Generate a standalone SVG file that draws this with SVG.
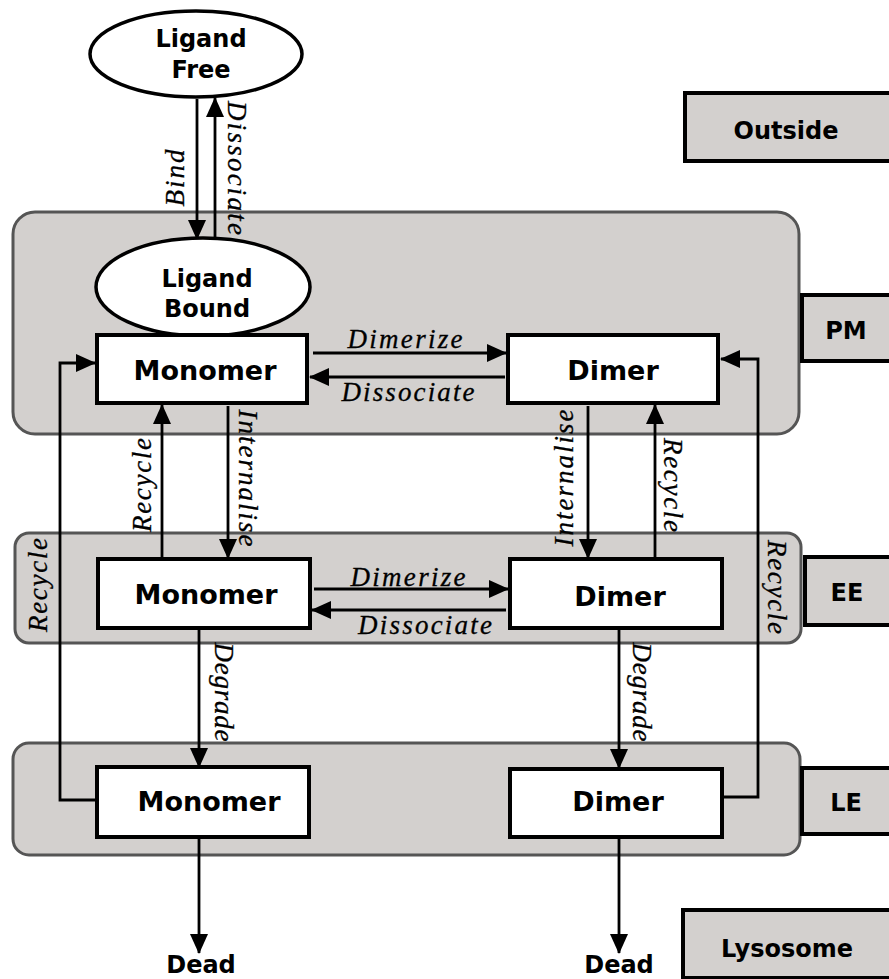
<svg xmlns="http://www.w3.org/2000/svg" width="889" height="979" viewBox="0 0 889 979">
  <defs>
    <marker id="arrow" markerUnits="userSpaceOnUse" markerWidth="20" markerHeight="18" refX="19" refY="9" orient="auto">
      <path d="M0,0 L20,9 L0,18 Z" fill="#000"/>
    </marker>
    <style>
      .region { fill: #d3d0ce; stroke: #555; stroke-width: 3; }
      .tag { fill: #d3d0ce; stroke: #000; stroke-width: 4; }
      .box { fill: #fff; stroke: #000; stroke-width: 4; }
      .oval { fill: #fff; stroke: #000; stroke-width: 3.5; }
      .conn { fill: none; stroke: #000; stroke-width: 2.8; }
      .arr { marker-end: url(#arrow); }
      .bold { font-family: "DejaVu Sans", Verdana, sans-serif; font-weight: bold; fill: #000; text-anchor: middle; }
      .node { font-size: 27px; }
      .lbl { font-size: 24px; }
      .it { font-family: "Liberation Serif", "Times New Roman", serif; font-style: italic; font-size: 27px; fill: #000; stroke: #000; stroke-width: 0.3; text-anchor: middle; }
    </style>
  </defs>

  <!-- compartments -->
  <g id="compartments">
    <rect id="pm-region" class="region" x="13" y="212" width="786" height="222" rx="22"/>
    <rect id="ee-region" class="region" x="15" y="533" width="786" height="110" rx="14"/>
    <rect id="le-region" class="region" x="13" y="743" width="787" height="112" rx="16"/>
  </g>

  <!-- compartment labels -->
  <g id="tag-outside">
    <rect class="tag" x="685" y="93" width="230" height="68"/>
    <text class="bold lbl" x="786" y="139">Outside</text>
  </g>
  <g id="tag-pm">
    <rect class="tag" x="802" y="295" width="120" height="66"/>
    <text class="bold lbl" x="846" y="339">PM</text>
  </g>
  <g id="tag-ee">
    <rect class="tag" x="805" y="557" width="120" height="68"/>
    <text class="bold lbl" x="847" y="601">EE</text>
  </g>
  <g id="tag-le">
    <rect class="tag" x="802" y="768" width="120" height="66"/>
    <text class="bold lbl" x="846" y="811">LE</text>
  </g>
  <g id="tag-lysosome">
    <rect class="tag" x="683" y="910" width="230" height="68"/>
    <text class="bold lbl" x="787" y="957">Lysosome</text>
  </g>

  <!-- connectors -->
  <g id="connectors">
    <line class="conn arr" x1="197" y1="99" x2="197" y2="239"/>
    <line class="conn arr" x1="215" y1="239" x2="215" y2="98"/>

    <line class="conn arr" x1="313" y1="353" x2="506" y2="353"/>
    <line class="conn arr" x1="505" y1="377" x2="310" y2="377"/>

    <line class="conn arr" x1="162" y1="559" x2="162" y2="405"/>
    <line class="conn arr" x1="228" y1="406" x2="228" y2="558"/>
    <line class="conn arr" x1="588" y1="406" x2="588" y2="558"/>
    <line class="conn arr" x1="655" y1="559" x2="655" y2="405"/>

    <line class="conn arr" x1="314" y1="589" x2="508" y2="589"/>
    <line class="conn arr" x1="506" y1="610" x2="312" y2="610"/>

    <line class="conn arr" x1="199" y1="628" x2="199" y2="767"/>
    <line class="conn arr" x1="619" y1="628" x2="619" y2="768"/>

    <polyline class="conn arr" points="97,800 60,800 60,363 95,363"/>
    <polyline class="conn arr" points="722,797 758,797 758,359 721,359"/>

    <line class="conn arr" x1="199" y1="837" x2="199" y2="953"/>
    <line class="conn arr" x1="619" y1="837" x2="619" y2="953"/>
  </g>

  <!-- connector labels -->
  <g id="connector-labels">
    <text class="it" transform="translate(184,178) rotate(-90)" textLength="57" lengthAdjust="spacing">Bind</text>
    <text class="it" transform="translate(228,168) rotate(90)" textLength="134" lengthAdjust="spacing">Dissociate</text>

    <text class="it" x="405" y="348" textLength="115" lengthAdjust="spacing">Dimerize</text>
    <text class="it" x="408" y="401" textLength="133" lengthAdjust="spacing">Dissociate</text>

    <text class="it" transform="translate(151,485) rotate(-90)" textLength="94" lengthAdjust="spacing">Recycle</text>
    <text class="it" transform="translate(239,478) rotate(90)" textLength="137" lengthAdjust="spacing">Internalise</text>
    <text class="it" transform="translate(573,478) rotate(-90)" textLength="137" lengthAdjust="spacing">Internalise</text>
    <text class="it" transform="translate(664,485) rotate(90)" textLength="94" lengthAdjust="spacing">Recycle</text>

    <text class="it" x="408" y="586" textLength="115" lengthAdjust="spacing">Dimerize</text>
    <text class="it" x="425" y="634" textLength="134" lengthAdjust="spacing">Dissociate</text>

    <text class="it" transform="translate(47,585) rotate(-90)" textLength="94" lengthAdjust="spacing">Recycle</text>
    <text class="it" transform="translate(768,587) rotate(90)" textLength="94" lengthAdjust="spacing">Recycle</text>

    <text class="it" transform="translate(215,692) rotate(90)" textLength="99" lengthAdjust="spacing">Degrade</text>
    <text class="it" transform="translate(633,692) rotate(90)" textLength="99" lengthAdjust="spacing">Degrade</text>
  </g>

  <!-- nodes -->
  <g id="ligand-free">
    <ellipse class="oval" cx="196" cy="54" rx="106" ry="43"/>
    <text class="bold lbl" x="201" y="47">Ligand</text>
    <text class="bold lbl" x="201" y="78">Free</text>
  </g>
  <g id="ligand-bound">
    <ellipse class="oval" cx="203" cy="287" rx="107" ry="49"/>
    <text class="bold lbl" x="207" y="287">Ligand</text>
    <text class="bold lbl" x="207" y="317">Bound</text>
  </g>

  <g id="pm-monomer">
    <rect class="box" x="97" y="335" width="210" height="68"/>
    <text class="bold node" x="205" y="380">Monomer</text>
  </g>
  <g id="pm-dimer">
    <rect class="box" x="508" y="335" width="210" height="68"/>
    <text class="bold node" x="613" y="380">Dimer</text>
  </g>

  <g id="ee-monomer">
    <rect class="box" x="98" y="559" width="212" height="69"/>
    <text class="bold node" x="206" y="604">Monomer</text>
  </g>
  <g id="ee-dimer">
    <rect class="box" x="510" y="559" width="212" height="69"/>
    <text class="bold node" x="620" y="606">Dimer</text>
  </g>

  <g id="le-monomer">
    <rect class="box" x="97" y="767" width="212" height="70"/>
    <text class="bold node" x="209" y="811">Monomer</text>
  </g>
  <g id="le-dimer">
    <rect class="box" x="510" y="769" width="212" height="68"/>
    <text class="bold node" x="618" y="811">Dimer</text>
  </g>

  <g id="dead-monomer">
    <text class="bold lbl" x="201" y="973">Dead</text>
  </g>
  <g id="dead-dimer">
    <text class="bold lbl" x="619" y="973">Dead</text>
  </g>
</svg>
